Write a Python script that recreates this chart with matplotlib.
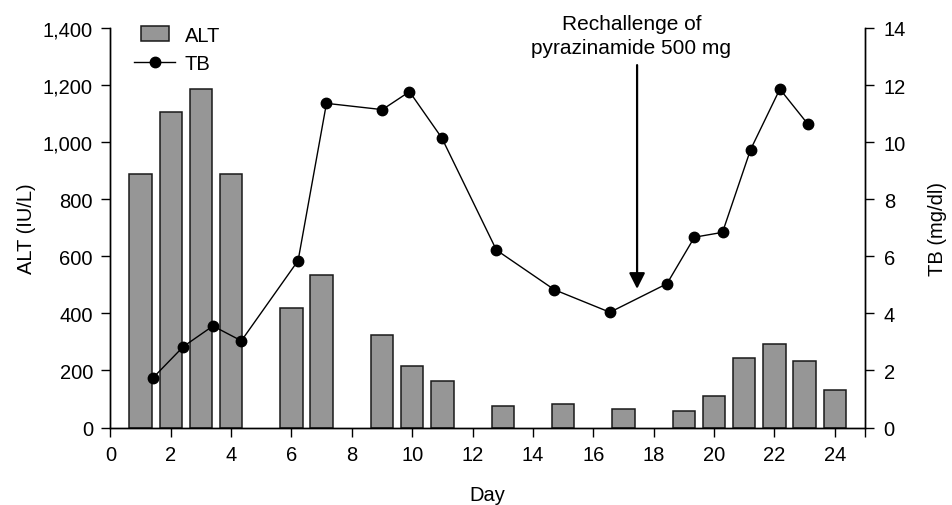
import matplotlib
matplotlib.use("Agg")
import matplotlib.pyplot as plt
import matplotlib.patches as mpatches
from matplotlib.legend_handler import HandlerPatch
from matplotlib.ticker import FuncFormatter, FixedLocator, NullFormatter

plt.rcParams['font.family'] = ['Liberation Sans', 'DejaVu Sans']

# ---- data ----
alt_days = [1, 2, 3, 4, 6, 7, 9, 10, 11, 13, 15, 17, 19, 20, 21, 22, 23, 24]
alt_values = [889, 1106, 1185, 887, 418, 534, 323, 215, 162, 76, 84, 65, 57, 111, 244, 294, 235, 132]

tb_days = [1.42, 2.42, 3.40, 4.34, 6.22, 7.16, 9.01, 9.91, 10.98, 12.79, 14.71, 16.55,
           18.44, 19.35, 20.28, 21.21, 22.18, 23.11]
tb_values = [1.75, 2.84, 3.56, 3.04, 5.85, 11.36, 11.14, 11.77, 10.15, 6.22, 4.83, 4.04,
             5.04, 6.67, 6.84, 9.74, 11.86, 10.63]

x_ticks = list(range(0, 25, 2))
alt_ticks = list(range(0, 1401, 200))
tb_ticks = list(range(0, 15, 2))

annotation_text = "Rechallenge of\npyrazinamide 500 mg"
arrow_day = 17.45
arrow_tip_tb = 4.86
arrow_tail_tb = 12.70

FS = 14.5

fig = plt.figure(figsize=(9.52, 5.06), dpi=100)
ax = fig.add_axes([0.1159, 0.153, 0.7927, 0.7897])
ax2 = ax.twinx()

bars = ax.bar(alt_days, alt_values, width=0.74, color='#969696', edgecolor='#1a1a1a',
              linewidth=1.1, zorder=2)
line, = ax2.plot(tb_days, tb_values, color='black', lw=1.0, marker='o', markersize=7.5,
                 zorder=3)

ax.set_xlim(0, 25)
ax.set_ylim(0, 1400)
ax2.set_ylim(0, 14)
ax.set_xticks(x_ticks)
ax.xaxis.set_minor_locator(FixedLocator([25]))
ax.xaxis.set_minor_formatter(NullFormatter())
ax.set_yticks(alt_ticks)
ax2.set_yticks(tb_ticks)
ax.yaxis.set_major_formatter(FuncFormatter(lambda v, p: f"{v:,.0f}"))

for a in (ax, ax2):
    a.spines['top'].set_visible(False)
    for s in a.spines.values():
        s.set_linewidth(1.0)
    a.tick_params(direction='out', length=6.5, width=1.0, labelsize=FS)
ax.tick_params(axis='x', which='both', pad=6, length=6.5, width=1.0)
ax.tick_params(axis='y', pad=6)
ax2.tick_params(axis='y', pad=7)

ax.set_xlabel('Day', fontsize=FS, labelpad=15)
ax.set_ylabel('ALT (IU/L)', fontsize=FS, labelpad=5)
ax2.set_ylabel('TB (mg/dl)', fontsize=FS, labelpad=16)

# annotation
ax2.annotate('', xy=(arrow_day, arrow_tip_tb), xytext=(arrow_day, arrow_tail_tb),
             arrowprops=dict(arrowstyle='-|>,head_length=0.95,head_width=0.48',
                             lw=1.6, color='black', mutation_scale=10,
                             shrinkA=0, shrinkB=0),
             annotation_clip=False)
ax2.text(17.26, 14.48, annotation_text, ha='center', va='top', fontsize=15,
         linespacing=1.3, clip_on=False)


def make_rect(legend, orig_handle, xdescent, ydescent, width, height, fontsize):
    return mpatches.Rectangle((-xdescent + 0.15 * width, -ydescent), 0.7 * width, height)


alt_handle = mpatches.Rectangle((0, 0), 1, 1, facecolor='#969696', edgecolor='#1a1a1a',
                                linewidth=1.1)
leg = ax2.legend(handles=[alt_handle, line], labels=['ALT', 'TB'], loc='upper left',
                 bbox_to_anchor=(0.032, 1.006), borderaxespad=0, borderpad=0,
                 frameon=False, fontsize=FS, handlelength=2.0, handletextpad=0.5,
                 labelspacing=0.45,
                 handler_map={mpatches.Rectangle: HandlerPatch(patch_func=make_rect)})

fig.savefig('out.png', dpi=100)
